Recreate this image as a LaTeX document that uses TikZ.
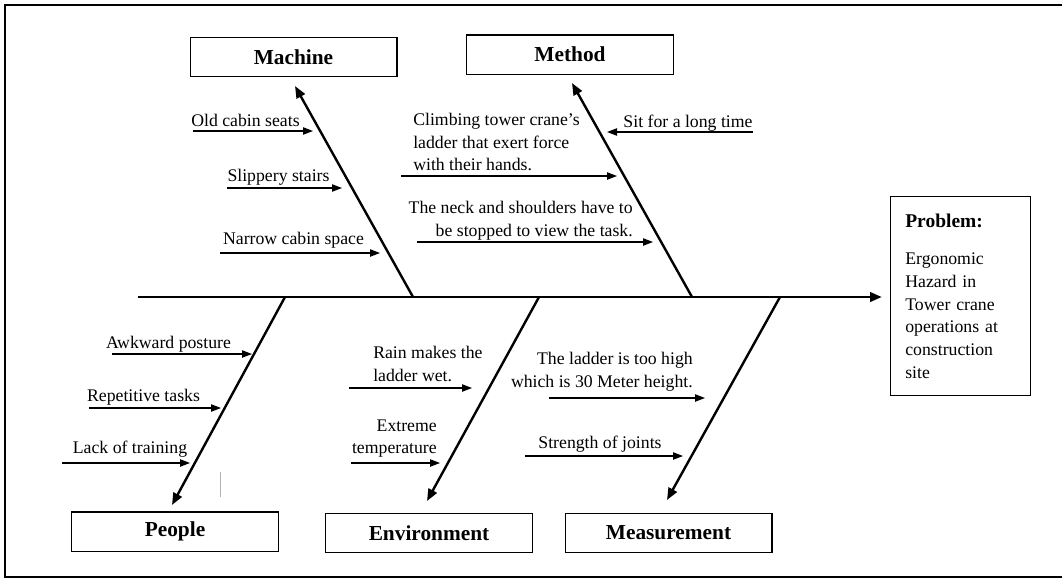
\documentclass[tikz,border=0pt]{standalone}
\usepackage{fontspec}
\setmainfont{Liberation Serif}
\usetikzlibrary{arrows.meta}

\tikzset{
  catbox/.style={rectangle, draw=black, line width=1pt, minimum width=155pt, minimum height=29.5pt, inner sep=0pt, font=\fontsize{16}{18}\selectfont\bfseries},
  cause/.style={inner sep=0pt, font=\fontsize{13.3}{17}\selectfont},
  spine/.style={line width=2.2pt, -{Triangle[length=9pt,width=7pt]}},
  bone/.style={line width=1.8pt, -{Triangle[length=9pt,width=7pt]}},
  sub/.style={line width=0.9pt, -{Triangle[length=7.5pt,width=5.5pt]}}
}

\begin{document}
\begin{tikzpicture}[x=0.75pt, y=-0.75pt]
\useasboundingbox (0,0) rectangle (1062,579);

% frame (right side is cut off)
\draw [line width=1.3pt] (1062,5) -- (5,5) -- (5,577) -- (1062,577);

% category boxes
\node [catbox] (machine) at (293.5,57) {Machine};
\node [catbox] (method) at (570,54.5) {Method};
\node [catbox] (people) at (175,531.5) {People};
\node [catbox] (environment) at (429,533) {Environment};
\node [catbox] (measurement) at (668.5,533) {Measurement};

% problem
\node [rectangle, draw=black, line width=1pt, anchor=north west, minimum width=105pt, minimum height=149pt,
       inner xsep=11pt, text width=83pt, align=left, font=\fontsize{13.3}{17}\selectfont] (prob) at (890,196)
  {{\fontsize{14.6}{17}\selectfont\bfseries Problem:}\\[11pt]
   Ergonomic\\Hazard in\\Tower crane\\operations at\\construction\\site};

% spine
\coordinate (tail) at (138,297);
\draw [spine, shorten >=6pt] (tail) -- (tail -| prob.west);

% bones
\coordinate (machineFoot) at (413,297);
\coordinate (machineTip) at (295,86);
\coordinate (methodFoot) at (692,297);
\coordinate (methodTip) at (572,83);
\coordinate (peopleFoot) at (285,297);
\coordinate (peopleTip) at (172,505);
\coordinate (envFoot) at (539,297);
\coordinate (envTip) at (427,501);
\coordinate (measFoot) at (780,297);
\coordinate (measTip) at (667,500);

\draw [bone] (machineFoot) -- (machineTip);
\draw [bone] (methodFoot) -- (methodTip);
\draw [bone] (peopleFoot) -- (peopleTip);
\draw [bone] (envFoot) -- (envTip);
\draw [bone] (measFoot) -- (measTip);

% machine causes
\node [cause] (seats) at (245.5,120) {Old cabin seats};
\node [cause] (stairs) at (278.5,177) {Slippery stairs};
\node [cause] (cabin) at (293.5,240) {Narrow cabin space};
\coordinate (seatsA) at (193,131);
\coordinate (seatsB) at (313,131);
\coordinate (stairsA) at (227,188);
\coordinate (stairsB) at (342,188);
\coordinate (cabinA) at (220,253);
\coordinate (cabinB) at (380,253);
\draw [sub] (seatsA) -- (seatsB);
\draw [sub] (stairsA) -- (stairsB);
\draw [sub] (cabinA) -- (cabinB);

% method causes
\node [cause, anchor=west, align=left] (climb) at (413,142) {Climbing tower crane's\\ladder that exert force\\with their hands.};
\node [cause] (sit) at (688,123) {Sit for a long time};
\node [cause, anchor=east, align=right] (neck) at (633,220.5) {The neck and shoulders have to\\be stopped to view the task.};
\coordinate (climbA) at (401,176);
\coordinate (climbB) at (617,176);
\coordinate (sitA) at (753,132);
\coordinate (sitB) at (607,132);
\coordinate (neckA) at (417,242);
\coordinate (neckB) at (653,242);
\draw [sub] (climbA) -- (climbB);
\draw [sub] (sitA) -- (sitB);
\draw [sub] (neckA) -- (neckB);

% people causes
\node [cause] (posture) at (168.5,344) {Awkward posture};
\node [cause] (tasks) at (143.5,397) {Repetitive tasks};
\node [cause] (training) at (130,449) {Lack of training};
\coordinate (postureA) at (112,354);
\coordinate (postureB) at (252,354);
\coordinate (tasksA) at (89,408);
\coordinate (tasksB) at (221,408);
\coordinate (trainingA) at (62,463);
\coordinate (trainingB) at (190,463);
\draw [sub] (postureA) -- (postureB);
\draw [sub] (tasksA) -- (tasksB);
\draw [sub] (trainingA) -- (trainingB);
\draw [gray!60, line width=0.6pt] (220,472) -- (220,497);

% environment causes
\node [cause, anchor=west, align=left] (rain) at (373,364) {Rain makes the\\ladder wet.};
\node [cause, anchor=east, align=right] (temp) at (437,438.5) {Extreme\\temperature};
\coordinate (rainA) at (349,388);
\coordinate (rainB) at (472,388);
\coordinate (tempA) at (351,463);
\coordinate (tempB) at (440,463);
\draw [sub] (rainA) -- (rainB);
\draw [sub] (tempA) -- (tempB);

% measurement causes
\node [cause, anchor=east, align=right] (ladder) at (693,371.5) {The ladder is too high\\which is 30 Meter height.};
\node [cause] (joints) at (600,444) {Strength of joints};
\coordinate (ladderA) at (549,398);
\coordinate (ladderB) at (705,398);
\coordinate (jointsA) at (525,456);
\coordinate (jointsB) at (683,456);
\draw [sub] (ladderA) -- (ladderB);
\draw [sub] (jointsA) -- (jointsB);

\end{tikzpicture}
\end{document}
